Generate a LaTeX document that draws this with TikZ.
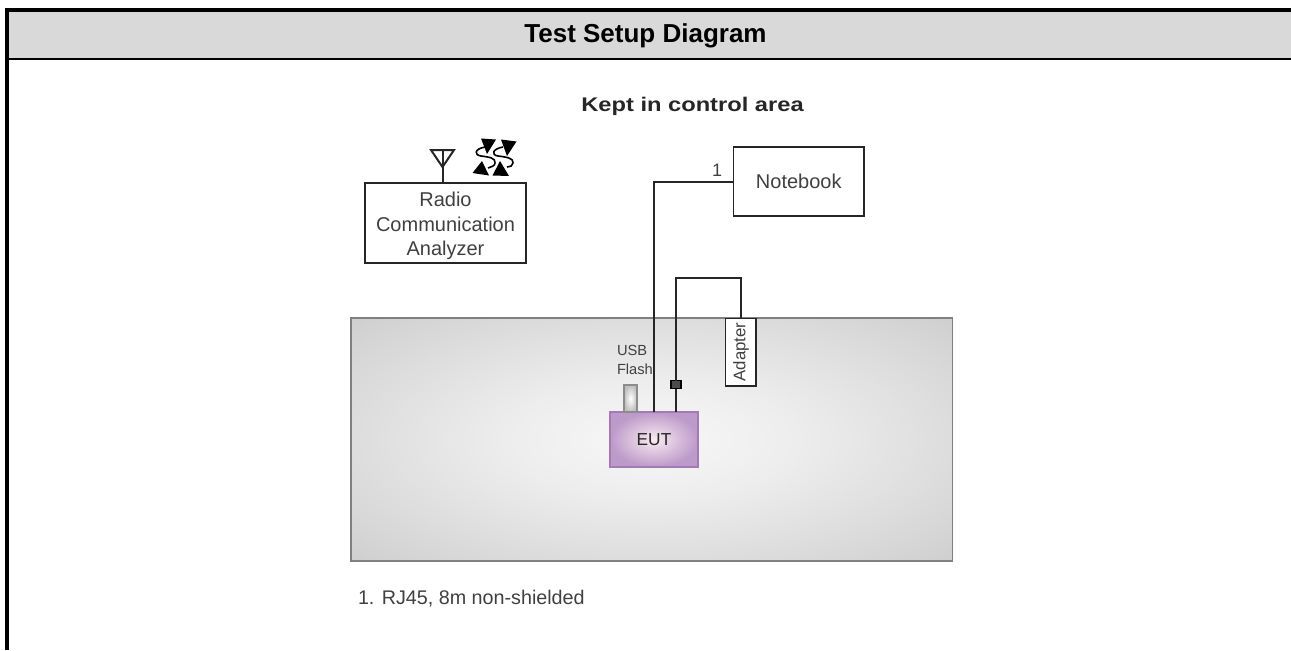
\documentclass[tikz,border=0pt]{standalone}
\usepackage{fontspec}
\setmainfont{Liberation Sans}
\newfontfamily\widefont[FakeStretch=1.2]{Liberation Sans}
\usetikzlibrary{calc}
\definecolor{headgray}{HTML}{D9D9D9}
\definecolor{labelgray}{HTML}{404040}
\definecolor{eutpurple}{HTML}{A678B8}
\pgfdeclareradialshading{areashade}{\pgfpoint{0bp}{0bp}}{color(0bp)=(black!3); color(12bp)=(black!7); color(30bp)=(black!16); color(45bp)=(black!24); color(100bp)=(black!24)}

\begin{document}
\begin{tikzpicture}[x=0.75pt, y=-0.75pt, every node/.style={outer sep=0pt, inner sep=0pt, text=labelgray}]
	\tikzstyle{frame}=[line width=3pt, draw=black]
	\tikzstyle{plainbox}=[draw=black!85, line width=1.1pt, fill=white, anchor=north west, align=center]
	\tikzstyle{wire}=[draw=black!85, line width=1.5pt]
	\tikzstyle{caption}=[font=\fontsize{15}{18.4}\selectfont]
	\tikzstyle{tip}=[fill=black, draw=none]
	\tikzstyle{swirl}=[draw=black, line width=1.2pt, line join=round]
	\useasboundingbox (0,0) rectangle (1291,650);

	\fill [headgray] (9,12) rectangle (1291,58);
	\draw [frame] (1291,10) -- (7,10) -- (7,650);
	\draw [line width=1.5pt, draw=black] (9,59) -- (1291,59);
	\node (title) at (645.5,36) [text=black, font=\bfseries\fontsize{19.5}{22}\selectfont] {Test Setup Diagram};
	\node (kept) at (692.5,106.5) [text=black!85, font=\widefont\bfseries\fontsize{14.8}{16}\selectfont] {Kept in control area};

	\node (area) at (351,318) [anchor=north west, minimum width=601.5*0.75pt, minimum height=243*0.75pt, draw=black!50, line width=1pt, shading=areashade] {};

	\node (radio) at (365,183) [plainbox, minimum width=161*0.75pt, minimum height=80*0.75pt] {};
	\node (radiotext) at (445.5,226) [caption, align=center] {Radio\\Communication\\Analyzer};
	\node (notebook) at (733.5,147) [plainbox, caption, minimum width=130.5*0.75pt, minimum height=69*0.75pt] {Notebook};
	\node (adapter) at (725.5,318.5) [plainbox, minimum width=30.5*0.75pt, minimum height=67.5*0.75pt] {};
	\node (adaptertext) at (741,352) [rotate=90, font=\fontsize{12.6}{14}\selectfont] {Adapter};
	\node (eut) at (610,412) [anchor=north west, minimum width=88*0.75pt, minimum height=55*0.75pt, draw=eutpurple, line width=1pt, inner color=purple!8!white, outer color=eutpurple!75, shading=radial, text=black!85, font=\fontsize{13}{14}\selectfont] {EUT};
	\node (usb) at (624,385) [anchor=north west, minimum width=13*0.75pt, minimum height=27*0.75pt, draw=black!45, line width=1pt, inner color=white, outer color=black!25, shading=radial] {};
	\node (usbtext) at (617,359.5) [anchor=west, align=left, font=\fontsize{11}{14.2}\selectfont] {USB\\Flash};
	\node (choke) at (676,384.5) [minimum width=10*0.75pt, minimum height=8*0.75pt, draw=black, line width=0.9pt, fill=black!70] {};
	\node (one) at (717,170) [font=\fontsize{13.5}{15}\selectfont] {1};
	\node (note) at (358,599) [anchor=west, font=\fontsize{14.8}{17}\selectfont] {1. RJ45, 8m non-shielded};

	\draw [wire] (notebook.west) -| (eut.north);
	\draw [wire] (adapter.north) -- ++(0,-40.5) -| (choke.north);
	\draw [wire] (choke.south) -- (choke.south |- eut.north);

	\coordinate (mast) at (442.5,150);
	\draw [wire] (radio.north -| mast) -- (mast);
	\draw [wire, line join=miter] (431,150) -- (454,150) -- (442.5,167) -- cycle;

	\fill [tip] (481,138.5) -- (496,139.5) -- (487,154) -- cycle;
	\fill [tip] (501,139.5) -- (516.5,141.5) -- (507,156) -- cycle;
	\fill [tip] (482,161) -- (489,175.5) -- (472.5,173) -- cycle;
	\fill [tip] (500,161) -- (509,176) -- (492.5,175.5) -- cycle;
	\draw [swirl] (485,147) .. controls (474,149) and (474,155) .. (481,156) .. controls (489,157) and (496,158) .. (495,163) .. controls (495,166) and (491,167) .. (488,168);
	\draw [swirl] (503,147) .. controls (492,149) and (491,155) .. (498,156) .. controls (506,157) and (514,158) .. (513,163) .. controls (513,166) and (510,167) .. (507,167);
\end{tikzpicture}
\end{document}
